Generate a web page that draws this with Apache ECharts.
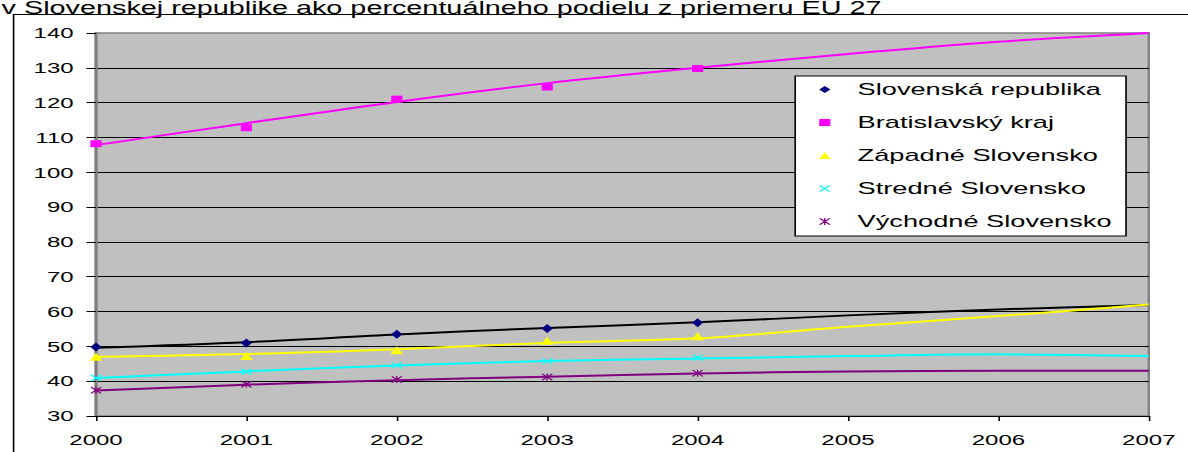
<!DOCTYPE html>
<html>
<head>
    <meta charset="utf-8">
    <title>HDP v PKS - regióny SR</title>
    <script src="https://cdn.jsdelivr.net/npm/echarts@6/dist/echarts.min.js"></script>
    <style>
        html, body { margin: 0; padding: 0; background: #fff; overflow: hidden; }
        /* the source picture is stretched sideways, so the chart is drawn narrow and widened */
        #main { width: 742.5px; height: 452px; transform: scaleX(1.6); transform-origin: 0 0; }
    </style>
</head>
<body>
<div id="main"></div>
<script>
    var years = ['2000', '2001', '2002', '2003', '2004', '2005', '2006', '2007'];
    var yTicks = [30, 140, 10]; // min, max, step

    // measured values (markers, 2000-2004)
    var slovensko = [49.8, 51.0, 53.5, 55.1, 56.8];
    var bratislava = [108.2, 112.8, 121.0, 124.5, 129.8];
    var zapad = [47.0, 47.2, 48.9, 51.6, 52.9];
    var stred = [40.9, 42.7, 44.6, 45.7, 46.8];
    var vychod = [37.4, 39.1, 40.5, 41.2, 42.3];

    // trend lines, 2000-2007
    var slovenskoTrend = [49.6, 51.2, 53.4, 55.3, 56.9, 58.9, 60.6, 61.9];
    var bratislavaTrend = [107.8, 114.1, 120.2, 125.6, 130.0, 134.0, 137.5, 140.0];
    var zapadTrend = [47.0, 47.8, 49.2, 51.0, 52.3, 55.6, 58.7, 62.0];
    var stredTrend = [40.9, 42.8, 44.5, 45.8, 46.5, 47.2, 47.7, 47.2];
    var vychodTrend = [37.3, 39.0, 40.3, 41.3, 42.2, 42.8, 43.0, 43.0];

    var font = "'Liberation Sans', Arial, sans-serif";
    var crossPath = 'path://M0,1L1,0L5,4L9,0L10,1L6,5L10,9L9,10L5,6L1,10L0,9L4,5Z';
    var starPath = crossPath + 'M4.4,0L5.6,0L5.6,10L4.4,10Z';

    function trend(data, color) {
        return {
            type: 'line', data: data, smooth: 0.3, showSymbol: false, silent: true,
            lineStyle: { color: color, width: 2 }, z: 2
        };
    }
    function points(name, data, color, symbol, size) {
        return {
            name: name, type: 'scatter', data: data, symbol: symbol, symbolSize: size,
            itemStyle: { color: color, opacity: 1 }, z: 3
        };
    }

    var myChart = echarts.init(document.getElementById('main'), null, { renderer: 'svg' });

    option = {
        backgroundColor: '#fff',
        animation: false,
        textStyle: { fontFamily: font },
        graphic: [
            {
                type: 'rect', left: 6, top: 12, z: -10,
                shape: { width: 900, height: 600 },
                style: { fill: 'none', stroke: '#000', lineWidth: 1 }
            },
            {
                type: 'text', x: 1, y: 17,
                style: {
                    text: 'v Slovenskej republike ako percentuálneho podielu z priemeru EÚ 27',
                    font: '18px ' + font, fill: '#000', verticalAlign: 'bottom'
                }
            }
        ],
        grid: {
            left: 60, right: 25, top: 33, bottom: 36,
            show: true, backgroundColor: '#C0C0C0', borderColor: '#808080', borderWidth: 1.5
        },
        legend: {
            orient: 'vertical', left: 497, top: 76,
            data: ['Slovenská republika', 'Bratislavský kraj', 'Západné Slovensko', 'Stredné Slovensko', 'Východné Slovensko'],
            backgroundColor: '#fff', borderColor: '#000', borderWidth: 1,
            padding: [5, 9, 6, 15],
            itemWidth: 7, itemHeight: 7, itemGap: 16,
            textStyle: { fontFamily: font, fontSize: 17, lineHeight: 17, color: '#000', padding: [0, 0, 0, 12] }
        },
        xAxis: {
            type: 'category', data: years, boundaryGap: false,
            axisLine: { lineStyle: { color: '#000', width: 1 } },
            axisTick: { show: true, length: 5, lineStyle: { color: '#000' } },
            axisLabel: { margin: 16, fontSize: 15, color: '#000', fontFamily: font },
            splitLine: { show: false }
        },
        yAxis: {
            type: 'value', min: yTicks[0], max: yTicks[1], interval: yTicks[2],
            axisLine: { show: true, lineStyle: { color: '#808080', width: 2 } },
            axisTick: { show: true, length: 6, lineStyle: { color: '#000' } },
            axisLabel: { margin: 14, fontSize: 15, color: '#000', fontFamily: font },
            splitLine: { show: true, showMinLine: false, showMaxLine: false, lineStyle: { color: '#000', width: 1 } }
        },
        series: [
            trend(slovenskoTrend, '#000000'),
            trend(bratislavaTrend, '#FF00FF'),
            trend(zapadTrend, '#FFFF00'),
            trend(stredTrend, '#00FFFF'),
            trend(vychodTrend, '#800080'),
            points('Slovenská republika', slovensko, '#000080', 'diamond', [7, 9]),
            points('Bratislavský kraj', bratislava, '#FF00FF', 'rect', [7, 7]),
            points('Západné Slovensko', zapad, '#FFFF00', 'triangle', [8, 8]),
            points('Stredné Slovensko', stred, '#00FFFF', crossPath, [7, 7]),
            points('Východné Slovensko', vychod, '#800080', starPath, [7, 7])
        ]
    };

    myChart.setOption(option);
</script>
</body>
</html>
